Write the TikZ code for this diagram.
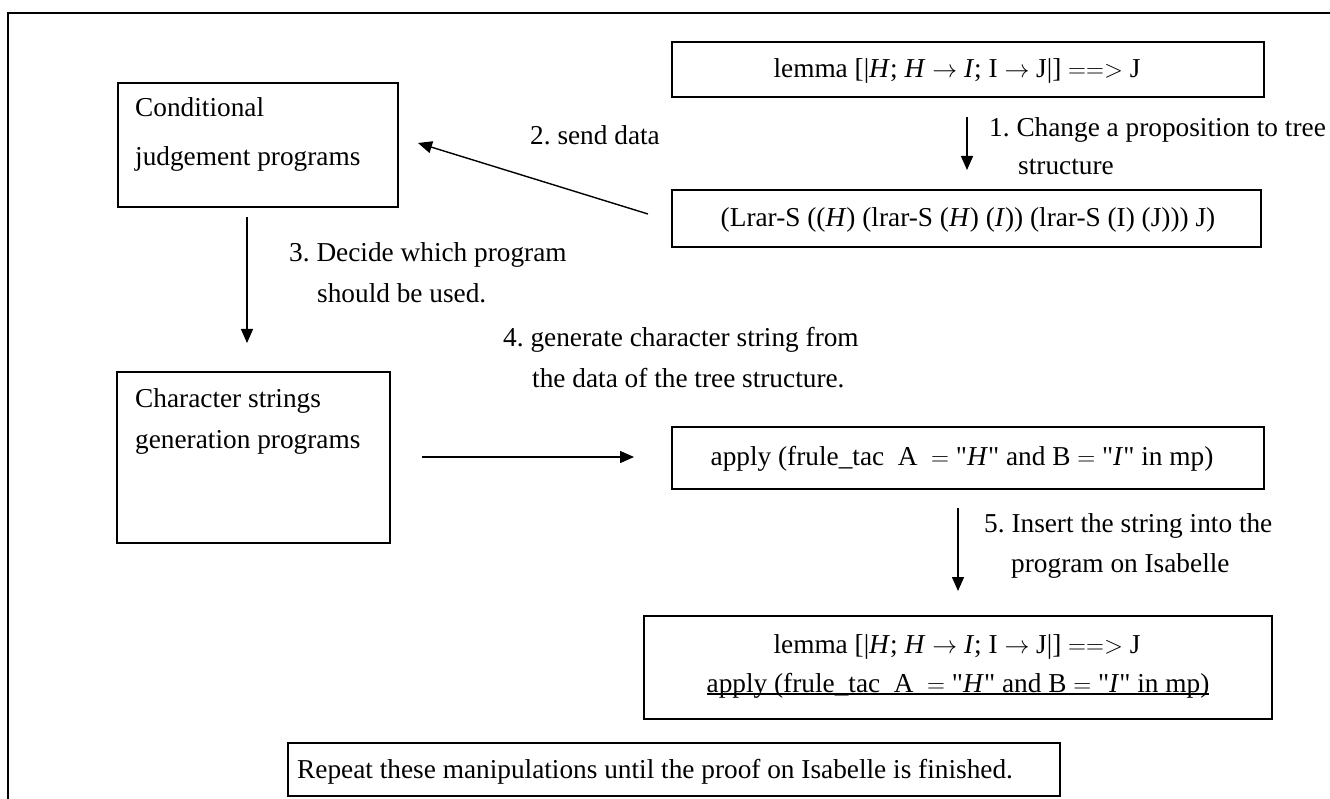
\documentclass[tikz,border=0pt]{standalone}
\usepackage{fontspec}
\setmainfont{Liberation Serif}[Ligatures=TeXOff]
\usetikzlibrary{arrows.meta}
\frenchspacing
\newcommand\ulline[1]{\setbox0\hbox{#1}\rlap{\rule[-2.5pt]{\wd0}{1.3pt}}\box0}
\newcommand\rar{ $\rightarrow$ }
\newcommand\lemmatext{lemma [|\textit{H}; \textit{H}\rar\textit{I}; I\rar J|] $=$$=$$>$ J}
\newcommand\applytext{apply (frule\_tac\ \ A\ \ $=$ "\textit{H}" and B $=$ "\textit{I}" in mp)}
\begin{document}
\begin{tikzpicture}[x=1pt,y=-1pt,
  box/.style={draw, line width=1.6pt, inner sep=0pt},
  txt/.style={inner sep=0pt, font=\fontsize{27.3}{30}\selectfont},
  arr/.style={line width=1.4pt, -{Triangle[length=14pt,width=12pt]}}]
\useasboundingbox (0,0) rectangle (1330,799);
\draw[line width=2pt] (8,799) -- (8,13) -- (1330,13);

% boxes
\node[box, minimum width=280pt, minimum height=124pt] (A) at (258,145) {};
\node[txt, anchor=base west] (A1) at (135,117) {Conditional};
\node[txt, anchor=base west] (A2) at (135,166) {judgement programs};

\node[box, minimum width=273pt, minimum height=171pt] (B) at (253.5,457.5) {};
\node[txt, anchor=base west] (B1) at (135,407) {Character strings};
\node[txt, anchor=base west] (B2) at (135,448) {generation programs};

\node[box, minimum width=592pt, minimum height=55pt] (D) at (968,69.5) {};
\node[txt, anchor=base] (D1) at (957,78) {\lemmatext};

\node[box, minimum width=589pt, minimum height=57pt] (E) at (966.5,218.5) {};
\node[txt, anchor=base] (E1) at (968,227) {(Lrar-S ((\textit{H}) (lrar-S (\textit{H}) (\textit{I})) (lrar-S (I) (J))) J)};

\node[box, minimum width=592pt, minimum height=62pt] (C) at (968,458) {};
\node[txt, anchor=base] (C1) at (962,465) {\applytext};

\node[box, minimum width=628pt, minimum height=103pt] (F) at (958,667.5) {};
\node[txt, anchor=base] (F1) at (957,653) {\lemmatext};
\node[txt, anchor=base] (F2) at (958,692) {\ulline{\applytext}};

\node[box, minimum width=772pt, minimum height=53pt] (G) at (674,769.5) {};
\node[txt, anchor=base west] (G1) at (297,778) {Repeat these manipulations until the proof on Isabelle is finished.};

% arrow end points
\coordinate (p1s) at (967,117);
\coordinate (p1e) at (967,170);
\coordinate (p2s) at (648,214);
\coordinate (p2e) at (418,143);
\coordinate (p3s) at (247,217);
\coordinate (p3e) at (247,343);
\coordinate (p4s) at (422,457);
\coordinate (p4e) at (634,457);
\coordinate (p5s) at (958,508);
\coordinate (p5e) at (958,591);

\draw[arr] (p1s) -- (p1e);
\draw[arr] (p2s) -- (p2e);
\draw[arr] (p3s) -- (p3e);
\draw[arr] (p4s) -- (p4e);
\draw[arr] (p5s) -- (p5e);

% labels
\node[txt, anchor=base west] (L1a) at (989,137) {1. Change a proposition to tree};
\node[txt, anchor=base west] (L1b) at (1018,175) {structure};
\node[txt, anchor=base west] (L2) at (530,145) {2. send data};
\node[txt, anchor=base west] (L3a) at (289,262) {3. Decide which program};
\node[txt, anchor=base west] (L3b) at (317,303) {should be used.};
\node[txt, anchor=base west] (L4a) at (503,347) {4. generate character string from};
\node[txt, anchor=base west] (L4b) at (532,388) {the data of the tree structure.};
\node[txt, anchor=base west] (L5a) at (984,532) {5. Insert the string into the};
\node[txt, anchor=base west] (L5b) at (1011,572) {program on Isabelle};
\end{tikzpicture}
\end{document}
